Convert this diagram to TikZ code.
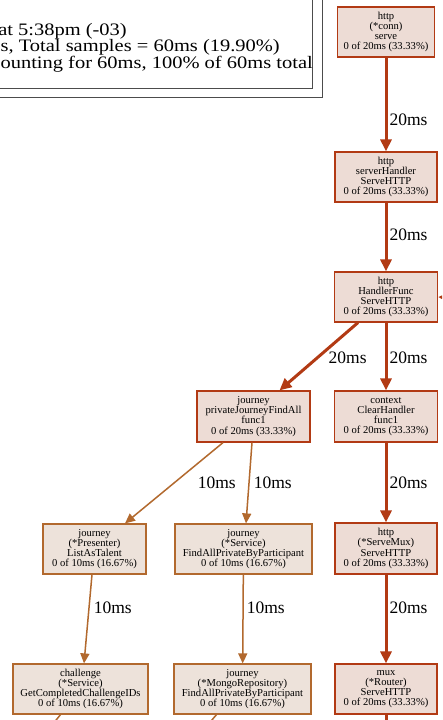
\documentclass[tikz,border=0pt]{standalone}
\usepackage{fontspec}
\setmainfont{Liberation Serif}
\usepackage{xcolor}
\usepackage{tikz}
\usetikzlibrary{arrows.meta,positioning}

\definecolor{hotline}{HTML}{B23A14}
\definecolor{hotfill}{HTML}{EDDCD5}
\definecolor{warmline}{HTML}{B2692E}
\definecolor{warmfill}{HTML}{EDE2DA}

\begin{document}
\begin{tikzpicture}[
    x=1pt, y=-1pt,
    fn/.style={rectangle, draw=hotline, line width=1.2pt, fill=hotfill, align=center, inner sep=1pt, minimum height=50pt, font=\fontsize{10.6}{10.2}\selectfont},
    warm/.style={draw=warmline, fill=warmfill},
    hot/.style={draw=hotline, line width=3pt, -{Triangle[length=12pt, width=11pt]}},
    cool/.style={draw=warmline, line width=1.5pt, -{Triangle[length=10pt, width=9pt]}},
    lbl/.style={font=\fontsize{17.5}{17.5}\selectfont, anchor=west, inner sep=1pt},
    legend/.style={font=\fontsize{17.5}{17.5}\selectfont, anchor=base east, inner sep=0pt, xscale=1.17}
]
\useasboundingbox (0,0) rectangle (442,720);
\clip (0,0) rectangle (442,720);
\fill[white] (0,0) rectangle (442,720);

% Legend (cut off at the left)
\draw[line width=1pt, draw=black!70] (-20,-20) rectangle (322,97);
\draw[line width=1pt, draw=black!70] (-20,-20) rectangle (312,88);
\node[legend] (leg1) at (127,35) {at 5:38pm (-03)};
\node[legend] (leg2) at (280,51.5) {s, Total samples = 60ms (19.90\%)};
\node[legend] (leg3) at (313,68) {ounting for 60ms, 100\% of 60ms total};

% Call graph
\node[fn, minimum width=97pt] (conn) at (386,32) {http\\(*conn)\\serve\\0 of 20ms (33.33\%)};
\node[fn, minimum width=102pt] (srvhandler) at (386,177) {http\\serverHandler\\ServeHTTP\\0 of 20ms (33.33\%)};
\node[fn, minimum width=103pt] (handlerfunc) at (386,297) {http\\HandlerFunc\\ServeHTTP\\0 of 20ms (33.33\%)};
\node[fn, minimum width=113pt, minimum height=51pt] (findall) at (253.5,416.5) {journey\\privateJourneyFindAll\\func1\\0 of 20ms (33.33\%)};
\node[fn, minimum width=103pt, minimum height=51pt] (clearhandler) at (386,416.5) {context\\ClearHandler\\func1\\0 of 20ms (33.33\%)};
\node[fn, warm, minimum width=103pt] (listastalent) at (94.5,549) {journey\\(*Presenter)\\ListAsTalent\\0 of 10ms (16.67\%)};
\node[fn, warm, minimum width=137pt] (service) at (243.5,549) {journey\\(*Service)\\FindAllPrivateByParticipant\\0 of 10ms (16.67\%)};
\node[fn, minimum width=102pt, minimum height=51pt] (servemux) at (386,548.5) {http\\(*ServeMux)\\ServeHTTP\\0 of 20ms (33.33\%)};
\node[fn, warm, minimum width=135pt] (challenge) at (80.5,689) {challenge\\(*Service)\\GetCompletedChallengeIDs\\0 of 10ms (16.67\%)};
\node[fn, warm, minimum width=137pt] (mongorepo) at (242.5,689) {journey\\(*MongoRepository)\\FindAllPrivateByParticipant\\0 of 10ms (16.67\%)};
\node[fn, minimum width=102pt] (router) at (386,689) {mux\\(*Router)\\ServeHTTP\\0 of 20ms (33.33\%)};

% Ends of edges that leave the view
\coordinate (fromright) at (480,299);
\coordinate (chaldown) at (40,740);
\coordinate (mongodown) at (195,740);
\coordinate (routerdown) at (386,740);

\draw[hot] (conn) -- node[lbl, pos=0.66, xshift=1] {20ms} (srvhandler);
\draw[hot] (srvhandler) -- node[lbl, pos=0.47, xshift=1] {20ms} (handlerfunc);
\draw[hot] (fromright) -- (handlerfunc.east);
\draw[hot] ([xshift=-28]handlerfunc.south) -- node[lbl, pos=0.52, xshift=9] {20ms} ([xshift=26]findall.north);
\draw[hot] (handlerfunc) -- node[lbl, pos=0.52, xshift=1] {20ms} (clearhandler);
\draw[cool] ([xshift=-30.5]findall.south) -- node[lbl, pos=0.5, xshift=22] {10ms} ([xshift=30.5]listastalent.north);
\draw[cool] ([xshift=-1.5]findall.south) -- node[lbl, pos=0.5, xshift=3] {10ms} ([xshift=2.5]service.north);
\draw[hot] (clearhandler) -- node[lbl, pos=0.5, xshift=1] {20ms} (servemux);
\draw[cool] ([xshift=-2.5]listastalent.south) -- node[lbl, pos=0.37, xshift=3] {10ms} ([xshift=3.5]challenge.north);
\draw[cool] (service) -- node[lbl, pos=0.37, xshift=2] {10ms} (mongorepo);
\draw[hot] (servemux) -- node[lbl, pos=0.37, xshift=1] {20ms} (router);
\draw[draw=warmline, line width=1.5pt] ([xshift=-20]challenge.south) -- (chaldown);
\draw[draw=warmline, line width=1.5pt] ([xshift=-26]mongorepo.south) -- (mongodown);
\draw[draw=hotline, line width=3pt] (router) -- (routerdown);

\end{tikzpicture}
\end{document}
